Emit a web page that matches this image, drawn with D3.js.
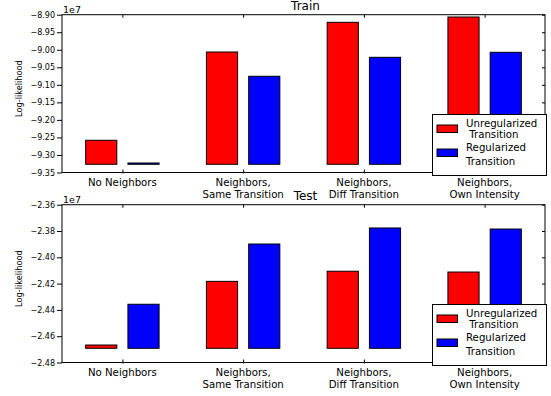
<!DOCTYPE html>
<html>
<head>
<meta charset="utf-8">
<script src="https://cdn.jsdelivr.net/npm/d3@7"></script>
<style>
  html, body { margin: 0; padding: 0; background: #fff; }
  svg { display: block; font-family: "DejaVu Sans", sans-serif; }
</style>
</head>
<body>
<svg id="chart" width="551" height="396"></svg>
<script>
// ---- Data ----
const categories = [
  ["No Neighbors"],
  ["Neighbors,", "Same Transition"],
  ["Neighbors,", "Diff Transition"],
  ["Neighbors,", "Own Intensity"]
];
const seriesNames = [["Unregularized", " Transition"], ["Regularized", "Transition"]];
const seriesColors = ["#ff0000", "#0000ff"];

const trainUnregularized = [-9.2581e7, -9.0064e7, -8.9217e7, -8.9066e7];
const trainRegularized   = [-9.3229e7, -9.0756e7, -9.0215e7, -9.0072e7];
const trainBaseline = -9.3266e7;
const trainTicks = [-8.90e7, -8.95e7, -9.00e7, -9.05e7, -9.10e7, -9.15e7, -9.20e7, -9.25e7, -9.30e7, -9.35e7];

const testUnregularized = [-2.4667e7, -2.4183e7, -2.4106e7, -2.4112e7];
const testRegularized   = [-2.4357e7, -2.3899e7, -2.3777e7, -2.3785e7];
const testBaseline = -2.4692e7;
const testTicks = [-2.36e7, -2.38e7, -2.40e7, -2.42e7, -2.44e7, -2.46e7, -2.48e7];

const panels = [
  { title: "Train", series: [trainUnregularized, trainRegularized], base: trainBaseline, ticks: trainTicks, top: 14.7, bottom: 172.5 },
  { title: "Test",  series: [testUnregularized, testRegularized],   base: testBaseline,  ticks: testTicks,  top: 204.7, bottom: 362.5 }
];

// ---- Drawing ----
const svg = d3.select("#chart");
const left = 62, right = 545;
const x = d3.scaleLinear().domain([-0.5, 3.5]).range([left, right]);
const barOffsets = [-0.304, 0.046];
const barWidth = 0.258;
const fmt = d3.format(".2f");

panels.forEach(p => {
  const ext = d3.extent(p.ticks);
  const y = d3.scaleLinear().domain(ext).range([p.bottom, p.top]);
  const g = svg.append("g");

  // bars
  p.series.forEach((vals, si) => {
    g.selectAll(null).data(vals).enter().append("rect")
      .attr("x", (d, i) => x(i + barOffsets[si]))
      .attr("width", x(barWidth) - x(0))
      .attr("y", d => y(d))
      .attr("height", d => Math.max(1, y(p.base) - y(d)))
      .attr("fill", seriesColors[si])
      .attr("stroke", "#000")
      .attr("stroke-width", 1);
  });

  // left axis
  const ya = g.append("g").attr("transform", `translate(${left},0)`)
    .call(d3.axisLeft(y).tickValues(p.ticks).tickFormat(d => fmt(d / 1e7)).tickSizeInner(5).tickSizeOuter(0).tickPadding(2));
  ya.select(".domain").remove();
  ya.selectAll("text").attr("font-size", 8).attr("font-family", "DejaVu Sans").attr("fill", "#000");
  ya.selectAll("line").attr("stroke", "#000");

  // right axis inner ticks
  const yr = g.append("g").attr("transform", `translate(${right},0)`)
    .call(d3.axisRight(y).tickValues(p.ticks).tickFormat("").tickSizeInner(-3).tickSizeOuter(0));
  yr.select(".domain").remove();
  yr.selectAll("line").attr("stroke", "#000");

  // top axis inner ticks
  const xt = g.append("g").attr("transform", `translate(0,${p.top})`)
    .call(d3.axisTop(x).tickValues([0, 1, 2, 3]).tickFormat("").tickSizeInner(-3).tickSizeOuter(0));
  xt.select(".domain").remove();
  xt.selectAll("line").attr("stroke", "#000");

  // bottom ticks
  const xb = g.append("g").attr("transform", `translate(0,${p.bottom})`)
    .call(d3.axisBottom(x).tickValues([0, 1, 2, 3]).tickFormat("").tickSizeInner(-3).tickSizeOuter(0));
  xb.select(".domain").remove();
  xb.selectAll("line").attr("stroke", "#000").attr("y2", -3).attr("y1", 1);

  // category labels
  categories.forEach((lines, i) => {
    const t = g.append("text").attr("text-anchor", "middle").attr("font-size", 10.2).attr("fill", "#000");
    lines.forEach((ln, li) => {
      t.append("tspan").attr("x", x(i)).attr("y", p.bottom + 13 + li * 12).text(ln);
    });
  });

  // frame
  g.append("rect").attr("x", left).attr("y", p.top)
    .attr("width", right - left).attr("height", p.bottom - p.top)
    .attr("fill", "none").attr("stroke", "#000").attr("stroke-width", 1);

  // title
  g.append("text").attr("x", (left + right) / 2 + 2).attr("y", p.top - 5)
    .attr("text-anchor", "middle").attr("font-size", 12).text(p.title);

  // offset label
  g.append("text").attr("x", left + 1).attr("y", p.top - 2).attr("font-size", 9.5).text("1e7");

  // y label
  g.append("text").attr("transform", `translate(22,${(p.top + p.bottom) / 2 - 5}) rotate(-90)`)
    .attr("text-anchor", "middle").attr("font-size", 8.2).text("Log-likelihood");

  // legend
  const lx = 432, ly = p.bottom - 58.5;
  const lg = g.append("g").attr("transform", `translate(${lx},${ly})`);
  lg.append("rect").attr("x", 0.5).attr("y", 0.5).attr("width", 114).attr("height", 61)
    .attr("fill", "#fff").attr("stroke", "#000").attr("stroke-width", 1);
  const entryBaselines = [[12.5, 23.5], [37, 50.5]];
  const patchTops = [11, 35];
  seriesNames.forEach((names, si) => {
    lg.append("rect").attr("x", 5).attr("y", patchTops[si]).attr("width", 20.5).attr("height", 7.5)
      .attr("fill", seriesColors[si]).attr("stroke", "#000").attr("stroke-width", 1);
    const t = lg.append("text").attr("font-size", 10.2).attr("xml:space", "preserve").style("white-space", "pre");
    names.forEach((n, li) => {
      t.append("tspan").attr("x", 34).attr("y", entryBaselines[si][li]).text(n);
    });
  });
});
</script>
</body>
</html>
